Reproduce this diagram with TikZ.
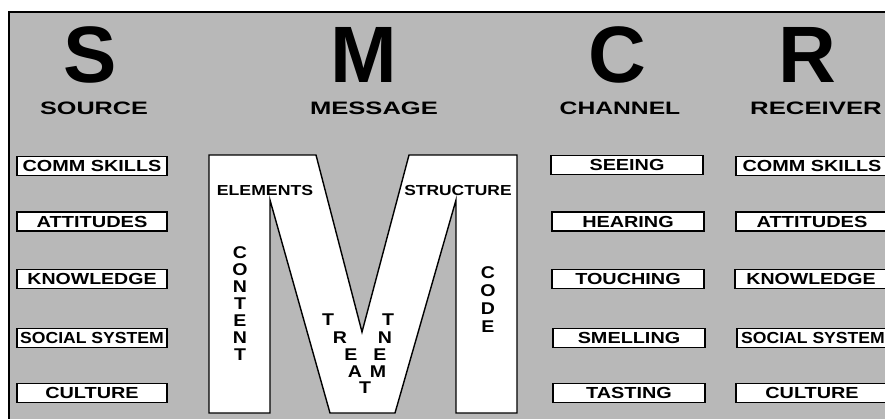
\documentclass[tikz,border=0pt]{standalone}
\usepackage{fontspec}
\setmainfont{Liberation Sans}
\usepackage{graphicx}
\definecolor{panelgray}{HTML}{B8B8B8}
\newcommand\sx[2]{\scalebox{#1}[1]{#2}}
\begin{document}
\begin{tikzpicture}[x=1pt,y=-1pt,
  big/.style={font=\fontsize{80}{80}\selectfont\bfseries, inner sep=0pt, anchor=base},
  head/.style={font=\fontsize{18}{20}\selectfont\bfseries, inner sep=0pt, anchor=base},
  itembox/.style={draw=black, fill=white, line width=1.4pt, minimum height=19pt,
    inner sep=0pt, font=\fontsize{16}{17}\selectfont\bfseries},
  mlabel/.style={font=\fontsize{14.5}{16}\selectfont\bfseries, inner sep=0pt, anchor=base},
  vlet/.style={font=\fontsize{17}{18}\selectfont\bfseries, inner sep=0pt}]
\useasboundingbox (0,0) rectangle (885,418);
% panel
\fill[panelgray] (9,12) rectangle (890,422);
\draw[line width=2pt] (9,422) -- (9,12) -- (890,12);
% big letters
\node[big] (bigS) at (90,82) {S};
\node[big] (bigM) at (364,82) {M};
\node[big] (bigC) at (617,82) {C};
\node[big] (bigR) at (807,82) {R};
% headers
\node[head] (hs) at (94,114) {\sx{1.40}{SOURCE}};
\node[head] (hm) at (374,114) {\sx{1.42}{MESSAGE}};
\node[head] (hc) at (620,114) {\sx{1.37}{CHANNEL}};
\node[head] (hr) at (816,114) {\sx{1.43}{RECEIVER}};
% source boxes
\node[itembox, minimum width=150pt] (s1) at (92,166) {\sx{1.24}{COMM SKILLS}};
\node[itembox, minimum width=150pt] (s2) at (92,221.5) {\sx{1.25}{ATTITUDES}};
\node[itembox, minimum width=150pt] (s3) at (92,279) {\sx{1.22}{KNOWLEDGE}};
\node[itembox, minimum width=150pt] (s4) at (92,338) {\sx{1.10}{SOCIAL SYSTEM}};
\node[itembox, minimum width=150pt] (s5) at (92,393) {\sx{1.24}{CULTURE}};
% channel boxes
\node[itembox, minimum width=152pt] (c1) at (627,165) {\sx{1.24}{SEEING}};
\node[itembox, minimum width=152pt] (c2) at (628,221.5) {\sx{1.24}{HEARING}};
\node[itembox, minimum width=152pt] (c3) at (628,279) {\sx{1.24}{TOUCHING}};
\node[itembox, minimum width=152pt] (c4) at (629,338) {\sx{1.24}{SMELLING}};
\node[itembox, minimum width=152pt] (c5) at (629,393) {\sx{1.24}{TASTING}};
% receiver boxes (clipped at right edge)
\begin{scope}
\clip (0,0) rectangle (885,418);
\node[itembox, minimum width=152pt] (r1) at (812,166) {\sx{1.24}{COMM SKILLS}};
\node[itembox, minimum width=152pt] (r2) at (812,221.5) {\sx{1.25}{ATTITUDES}};
\node[itembox, minimum width=152pt] (r3) at (811,279) {\sx{1.22}{KNOWLEDGE}};
\node[itembox, minimum width=152pt] (r4) at (813,338) {\sx{1.10}{SOCIAL SYSTEM}};
\node[itembox, minimum width=152pt] (r5) at (812,393) {\sx{1.24}{CULTURE}};
\end{scope}
% the big M
\draw[fill=white, line width=1.4pt, line join=miter]
  (209,155) -- (316,155) -- (362,332) -- (409,155) -- (517,155) -- (517,413)
  -- (456,413) -- (456,200) -- (395,413) -- (330,413) -- (270,200)
  -- (270,413) -- (209,413) -- cycle;
\node[mlabel] (el) at (265,195) {\sx{1.22}{ELEMENTS}};
\node[mlabel] (st) at (458,195) {\sx{1.2}{STRUCTURE}};
% CONTENT
\foreach \l [count=\i from 0] in {C,O,N,T,E,N,T}
  \node[vlet] (ct\i) at (240,253+17*\i) {\sx{1.15}{\l}};
% CODE
\foreach \l [count=\i from 0] in {C,O,D,E}
  \node[vlet] (cd\i) at (488,273+18*\i) {\sx{1.15}{\l}};
% TREATMENT
\node[vlet] (t1) at (328,320) {\sx{1.15}{T}};
\node[vlet] (t2) at (340,338) {\sx{1.15}{R}};
\node[vlet] (t3) at (351,355) {\sx{1.15}{E}};
\node[vlet] (t4) at (355,372) {\sx{1.15}{A}};
\node[vlet] (t5) at (365,388) {\sx{1.15}{T}};
\node[vlet] (t6) at (378,372) {\sx{1.15}{M}};
\node[vlet] (t7) at (380,355) {\sx{1.15}{E}};
\node[vlet] (t8) at (385,338) {\sx{1.15}{N}};
\node[vlet] (t9) at (388,320) {\sx{1.15}{T}};
\end{tikzpicture}
\end{document}
